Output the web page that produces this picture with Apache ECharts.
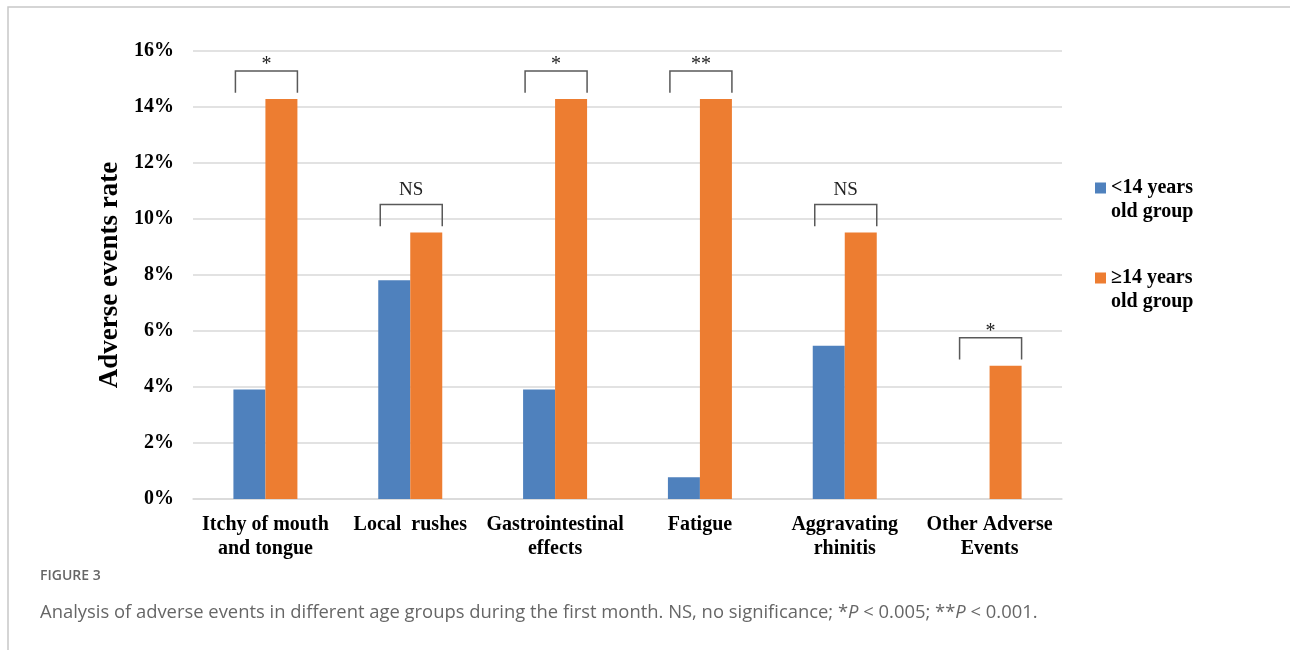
<!DOCTYPE html>
<html>
<head>
<meta charset="utf-8">
<script src="https://cdn.jsdelivr.net/npm/echarts@6/dist/echarts.min.js"></script>
<style>
  html, body { margin: 0; padding: 0; background: #fff; }
  #chart { width: 1290px; height: 650px; }
</style>
</head>
<body>
<div id="chart"></div>
<script>
// Adverse event categories (x axis)
const categories = [
  'Itchy of mouth\nand tongue',
  'Local  rushes',
  'Gastrointestinal\neffects',
  'Fatigue',
  'Aggravating\nrhinitis',
  'Other Adverse\nEvents'
];
// Adverse event rates (%) per age group
const youngerRates = [3.91, 7.81, 3.91, 0.78, 5.47, 0];
const olderRates = [14.29, 9.52, 14.29, 14.29, 9.52, 4.76];
// Significance marks drawn above each pair of bars
const significance = ['*', 'NS', '*', '**', 'NS', '*'];
// Y axis tick values
const yTicks = [0, 2, 4, 6, 8, 10, 12, 14, 16];
const seriesNames = ['<14 years\nold group', '\u226514 years\nold group'];

const BLUE = '#4F81BD';
const ORANGE = '#ED7D31';
const SERIF = '"Liberation Serif", "Times New Roman", serif';
const SANS = '"Open Sans", sans-serif';
const BAR_W = 32;

const chart = echarts.init(document.getElementById('chart'), null, { renderer: 'canvas' });

// one bracket per category, sitting just above the taller bar
const bracketData = categories.map((c, i) => {
  const top = Math.max(youngerRates[i], olderRates[i]);
  return [i, top + 1.0, top + 0.22, significance[i]];
});

// legend swatch: an 11px square at the top of a taller box, so it lines up
// with the first line of the two-line label
const SWATCH = 'path://M0,0h11v11h-11z M0,35L0.01,35';

const legendBase = {
  orient: 'vertical', left: 1095, padding: 0,
  icon: SWATCH, itemWidth: 11, itemHeight: 35, itemGap: 0,
  selectedMode: false,
  textStyle: { fontFamily: SERIF, fontWeight: 'bold', fontSize: 20, color: '#000', lineHeight: 24 }
};

const option = {
  animation: false,
  backgroundColor: '#fff',
  grid: { left: 193, right: 228, top: 51, bottom: 151 },
  legend: [
    Object.assign({}, legendBase, { data: [seriesNames[0]], top: 176 }),
    Object.assign({}, legendBase, { data: [seriesNames[1]], top: 266 })
  ],
  xAxis: {
    type: 'category',
    data: categories,
    axisTick: { show: false },
    axisLine: { lineStyle: { color: '#d9d9d9', width: 1.5 } },
    axisLabel: {
      interval: 0, margin: 14,
      fontFamily: SERIF, fontWeight: 'bold', fontSize: 20, color: '#000', lineHeight: 24
    }
  },
  yAxis: {
    type: 'value',
    min: yTicks[0], max: yTicks[yTicks.length - 1], interval: 2,
    name: 'Adverse events rate',
    nameLocation: 'middle', nameGap: 65, nameRotate: 90,
    nameTextStyle: { fontFamily: SERIF, fontWeight: 'bold', fontSize: 27, color: '#000' },
    axisLine: { show: false },
    axisTick: { show: false },
    splitLine: { lineStyle: { color: '#d9d9d9', width: 1.5 } },
    axisLabel: {
      margin: 19, formatter: '{value}%',
      fontFamily: SERIF, fontWeight: 'bold', fontSize: 20, color: '#000'
    }
  },
  series: [
    {
      name: seriesNames[0], type: 'bar', data: youngerRates,
      barWidth: BAR_W, barGap: '0%', itemStyle: { color: BLUE }
    },
    {
      name: seriesNames[1], type: 'bar', data: olderRates,
      barWidth: BAR_W, barGap: '0%', itemStyle: { color: ORANGE }
    },
    {
      name: 'brackets', type: 'custom', data: bracketData, silent: true, z: 5,
      renderItem: function (params, api) {
        const i = api.value(0);
        const pTop = api.coord([i, api.value(1)]);
        const pLeg = api.coord([i, api.value(2)]);
        const cx = pTop[0];
        const x0 = cx - BAR_W + 2, x1 = cx + BAR_W;
        const yT = pTop[1], yB = pLeg[1];
        const mark = significance[i];
        const isNS = mark === 'NS';
        return {
          type: 'group',
          children: [
            {
              type: 'polyline',
              shape: { points: [[x0, yB], [x0, yT], [x1, yT], [x1, yB]] },
              style: { stroke: '#595959', lineWidth: 1.5, fill: null }
            },
            {
              type: 'text',
              style: {
                x: cx + 1, y: yT + (isNS ? -5 : 4),
                text: mark, textAlign: 'center', textVerticalAlign: 'bottom',
                fontFamily: SERIF, fontSize: isNS ? 19 : 20, fill: '#222'
              }
            }
          ]
        };
      }
    }
  ],
  graphic: [
    {
      type: 'rect', silent: true,
      shape: { x: 8, y: 7, width: 1300, height: 700 },
      style: { fill: null, stroke: '#c8c8c8', lineWidth: 1.5 }
    },
    {
      type: 'text', left: 40, top: 569, silent: true,
      style: { text: 'FIGURE 3', fontFamily: SANS, fontSize: 14, fontWeight: 600, fill: '#666' }
    },
    {
      type: 'text', left: 40, top: 604, silent: true,
      style: {
        text: '{n|Analysis of adverse events in different age groups during the first month. NS, no significance; *}{i|P}{n| < 0.005; **}{i|P}{n| < 0.001.}',
        rich: {
          n: { fontFamily: SANS, fontSize: 18.4, fill: '#666' },
          i: { fontFamily: SANS, fontSize: 18.4, fill: '#666', fontStyle: 'italic' }
        }
      }
    }
  ]
};

chart.setOption(option);
</script>
</body>
</html>
